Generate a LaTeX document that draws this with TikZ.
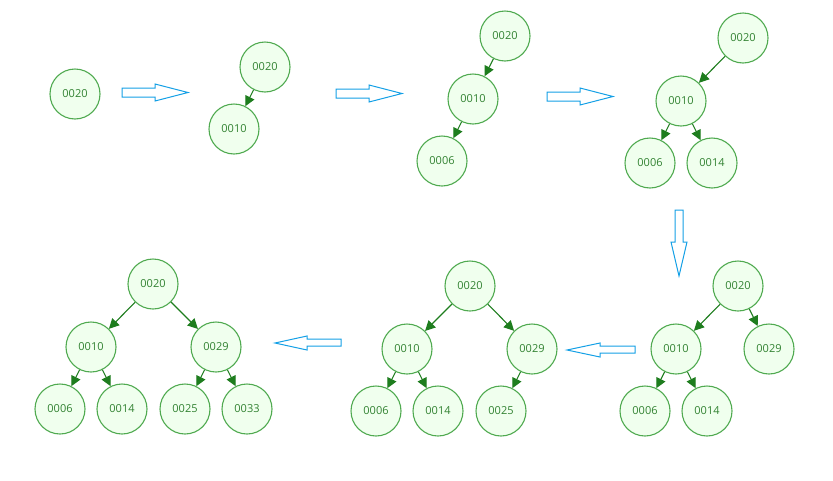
\documentclass[tikz,border=0pt]{standalone}
\usepackage{fontspec}
\setsansfont{Open Sans}
\usetikzlibrary{arrows.meta,positioning}
\definecolor{nodegreen}{RGB}{80,170,80}
\definecolor{nodefill}{RGB}{240,255,238}
\definecolor{textgreen}{RGB}{50,130,50}
\definecolor{edgegreen}{RGB}{30,125,30}
\definecolor{stepblue}{RGB}{20,160,230}

\begin{document}
\begin{tikzpicture}[
	x=1pt, y=-1pt,
	treenode/.style={
		circle,
		draw=nodegreen,
		fill=nodefill,
		line width=1.1pt,
		minimum size=50pt,
		inner sep=0pt,
		font=\sffamily\fontsize{11}{12}\selectfont,
		text=textgreen
	},
	edge/.style={
		-{Triangle[length=10pt,width=10pt]},
		line width=1.1pt,
		color=edgegreen
	},
	blockarrow/.style={
		draw=stepblue,
		line width=1pt,
		fill=white
	}
	]
	\useasboundingbox (0,0) rectangle (833,480);
	
	% Step 1
	\node[treenode] (a20) at (75,94) {0020};
	
	% Step 2
	\node[treenode] (b20) at (265,67) {0020};
	\node[treenode] (b10) at (234,129) {0010};
	\draw[edge] (b20) -- (b10);
	
	% Step 3
	\node[treenode] (c20) at (505,36) {0020};
	\node[treenode] (c10) at (473,99) {0010};
	\node[treenode] (c06) at (442,161) {0006};
	\draw[edge] (c20) -- (c10);
	\draw[edge] (c10) -- (c06);
	
	% Step 4
	\node[treenode] (d20) at (743,38) {0020};
	\node[treenode] (d10) at (681,101) {0010};
	\node[treenode] (d06) at (650,163) {0006};
	\node[treenode] (d14) at (712,163) {0014};
	\draw[edge] (d20) -- (d10);
	\draw[edge] (d10) -- (d06);
	\draw[edge] (d10) -- (d14);
	
	% Step 5
	\node[treenode] (e20) at (738,286) {0020};
	\node[treenode] (e10) at (676,349) {0010};
	\node[treenode] (e29) at (769,349) {0029};
	\node[treenode] (e06) at (645,411) {0006};
	\node[treenode] (e14) at (707,411) {0014};
	\draw[edge] (e20) -- (e10);
	\draw[edge] (e20) -- (e29);
	\draw[edge] (e10) -- (e06);
	\draw[edge] (e10) -- (e14);
	
	% Step 6
	\node[treenode] (f20) at (470,286) {0020};
	\node[treenode] (f10) at (407,349) {0010};
	\node[treenode] (f29) at (532,349) {0029};
	\node[treenode] (f06) at (376,411) {0006};
	\node[treenode] (f14) at (438,411) {0014};
	\node[treenode] (f25) at (501,411) {0025};
	\draw[edge] (f20) -- (f10);
	\draw[edge] (f20) -- (f29);
	\draw[edge] (f10) -- (f06);
	\draw[edge] (f10) -- (f14);
	\draw[edge] (f29) -- (f25);
	
	% Step 7
	\node[treenode] (g20) at (153,284) {0020};
	\node[treenode] (g10) at (91,347) {0010};
	\node[treenode] (g29) at (216,347) {0029};
	\node[treenode] (g06) at (60,409) {0006};
	\node[treenode] (g14) at (122,409) {0014};
	\node[treenode] (g25) at (185,409) {0025};
	\node[treenode] (g33) at (247,409) {0033};
	\draw[edge] (g20) -- (g10);
	\draw[edge] (g20) -- (g29);
	\draw[edge] (g10) -- (g06);
	\draw[edge] (g10) -- (g14);
	\draw[edge] (g29) -- (g25);
	\draw[edge] (g29) -- (g33);
	
	% Step arrows
	\draw[blockarrow] (122,88) -- (155,88) -- (155,84) -- (188,92.5) -- (155,101) -- (155,97) -- (122,97) -- cycle;
	\draw[blockarrow] (336,89) -- (369,89) -- (369,85) -- (402,93.5) -- (369,102) -- (369,98) -- (336,98) -- cycle;
	\draw[blockarrow] (547,92) -- (580,92) -- (580,88) -- (613,96.5) -- (580,105) -- (580,101) -- (547,101) -- cycle;
	\draw[blockarrow] (675,210) -- (675,242) -- (671,242) -- (679,276) -- (687,242) -- (683,242) -- (683,210) -- cycle;
	\draw[blockarrow] (635,346) -- (600,346) -- (600,343) -- (567,350) -- (600,357) -- (600,353) -- (635,353) -- cycle;
	\draw[blockarrow] (341,339) -- (307,339) -- (307,336) -- (275,343) -- (307,350) -- (307,346) -- (341,346) -- cycle;
	
\end{tikzpicture}
\end{document}
